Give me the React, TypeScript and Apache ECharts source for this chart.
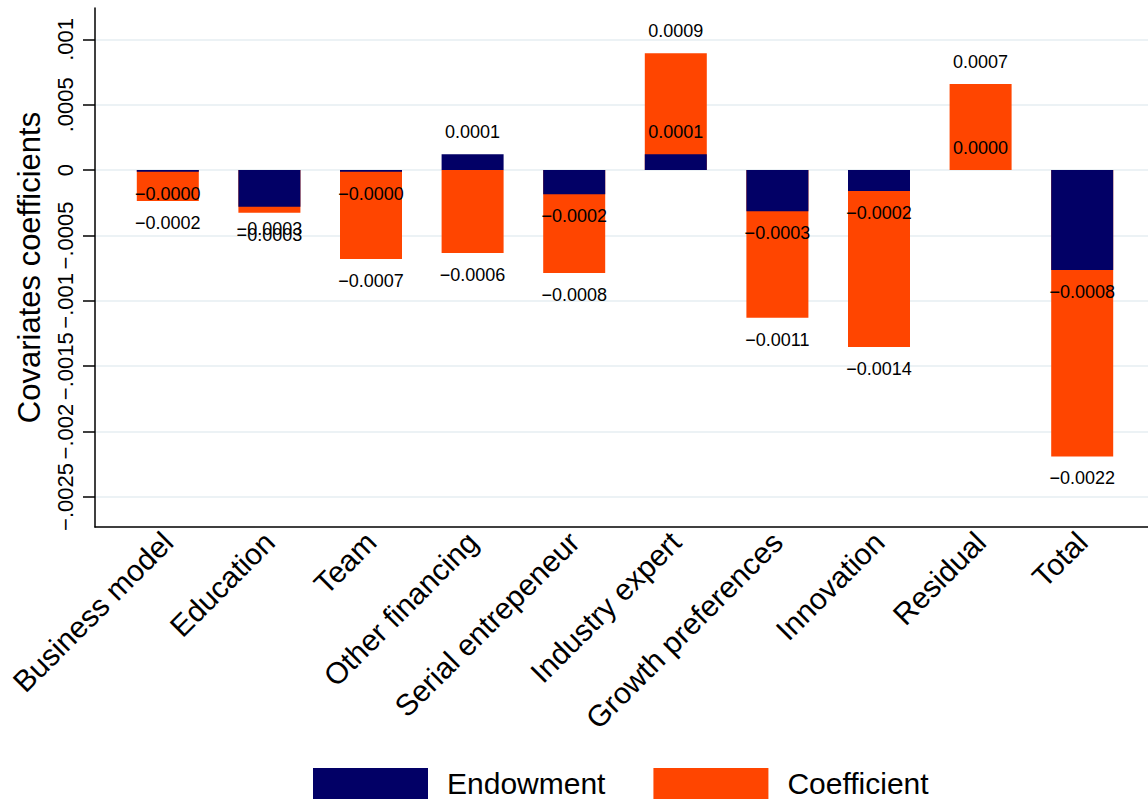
import React, { useEffect, useRef } from 'react';
import * as echarts from 'echarts';

// ---- data ----
const categories = [
  'Business model',
  'Education',
  'Team',
  'Other financing',
  'Serial entrepeneur',
  'Industry expert',
  'Growth preferences',
  'Innovation',
  'Residual',
  'Total',
];
// endowment component
const endowment = [-0.000013, -0.00028, -0.000012, 0.000122, -0.000184, 0.000122, -0.000314, -0.00016, 0, -0.000765];
// endowment + coefficient (end of the coefficient bar)
const total = [-0.000237, -0.000327, -0.00068, -0.000635, -0.000788, 0.000893, -0.00113, -0.001354, 0.000658, -0.00219];

const yTicks = [-0.0025, -0.002, -0.0015, -0.001, -0.0005, 0, 0.0005, 0.001];
const yTickLabels = ['\u2212.0025', '\u2212.002', '\u2212.0015', '\u2212.001', '\u2212.0005', '0', '.0005', '.001'];
const yMin = -0.00273;
const yMax = 0.00124;

const NAVY = '#020066';
const ORANGE = '#FF4500';
const FONT = '"Liberation Sans", Arial, Helvetica, sans-serif';

const fmt = (v: number) => v.toFixed(4).replace('-', '\u2212');

export default function App() {
  const ref = useRef<HTMLDivElement>(null);

  useEffect(() => {
    document.body.style.margin = '0';
    if (!ref.current) return;
    const chart = echarts.init(ref.current, undefined, { renderer: 'svg' });

    const labelCommon = {
      show: true,
      distance: 13,
      color: '#000',
      fontSize: 18,
      fontFamily: FONT,
      formatter: (p: any) => fmt(p.value),
    };

    const mkData = (arr: number[]) =>
      arr.map((v) => ({ value: v, label: { position: v < 0 ? 'bottom' : 'top' } }));

    const gridTop = 8;
    const gridBottom = 274;

    chart.setOption({
      animation: false,
      textStyle: { fontFamily: FONT },
      grid: [
        { left: 95, right: 0, top: gridTop, bottom: gridBottom },
        { left: 117, right: 15, top: gridTop, bottom: gridBottom },
        { left: 117, right: 15, top: gridTop, bottom: gridBottom },
      ],
      xAxis: [
        {
          gridIndex: 0,
          type: 'value',
          min: 0,
          max: 1,
          axisLine: { show: true, onZero: false, lineStyle: { color: '#000', width: 1.5 } },
          axisTick: { show: false },
          axisLabel: { show: false },
          splitLine: { show: false },
        },
        {
          gridIndex: 1,
          type: 'category',
          data: categories,
          axisLine: { show: false, onZero: false },
          axisTick: { show: false },
          axisLabel: { show: false },
        },
        {
          gridIndex: 2,
          type: 'category',
          data: categories,
          axisLine: { show: false, onZero: false },
          axisTick: { show: false },
          axisLabel: {
            show: true,
            interval: 0,
            rotate: 45,
            margin: 10,
            fontSize: 30,
            color: '#000',
            fontFamily: FONT,
          },
        },
      ],
      yAxis: [
        {
          gridIndex: 0,
          type: 'value',
          min: yMin,
          max: yMax,
          name: 'Covariates coefficients',
          nameLocation: 'middle',
          nameRotate: 90,
          nameGap: 50,
          nameTextStyle: { fontSize: 31, color: '#000', fontFamily: FONT },
          axisLine: { show: true, onZero: false, lineStyle: { color: '#000', width: 1.5 } },
          axisTick: {
            show: true,
            customValues: yTicks,
            length: 12,
            lineStyle: { color: '#000', width: 1.5 },
          },
          axisLabel: {
            show: true,
            customValues: yTicks,
            rotate: 90,
            margin: 19,
            fontSize: 22,
            color: '#000',
            fontFamily: FONT,
            formatter: (v: number) => {
              const i = yTicks.findIndex((t) => Math.abs(t - v) < 1e-9);
              return i >= 0 ? yTickLabels[i] : '';
            },
          },
          splitLine: { show: true, lineStyle: { color: '#e6eef2', width: 1.5 } },
        },
        { gridIndex: 1, type: 'value', min: yMin, max: yMax, show: false },
        { gridIndex: 2, type: 'value', min: yMin, max: yMax, show: false },
      ],
      legend: {
        data: ['Endowment', 'Coefficient'],
        left: 313,
        top: 768,
        padding: 0,
        icon: 'rect',
        itemWidth: 115,
        itemHeight: 31,
        itemGap: 48,
        textStyle: {
          fontSize: 30,
          lineHeight: 31,
          color: '#000',
          fontFamily: FONT,
          padding: [0, 0, 0, 14],
        },
      },
      series: [
        {
          name: 'Coefficient',
          type: 'bar',
          xAxisIndex: 1,
          yAxisIndex: 1,
          barWidth: 62,
          barGap: '-100%',
          itemStyle: { color: ORANGE },
          label: labelCommon,
          data: mkData(total),
        },
        {
          name: 'Endowment',
          type: 'bar',
          xAxisIndex: 1,
          yAxisIndex: 1,
          barWidth: 62,
          barGap: '-100%',
          itemStyle: { color: NAVY },
          label: labelCommon,
          data: mkData(endowment),
        },
      ],
    });

    return () => chart.dispose();
  }, []);

  return <div ref={ref} style={{ width: 1148, height: 801 }} />;
}
